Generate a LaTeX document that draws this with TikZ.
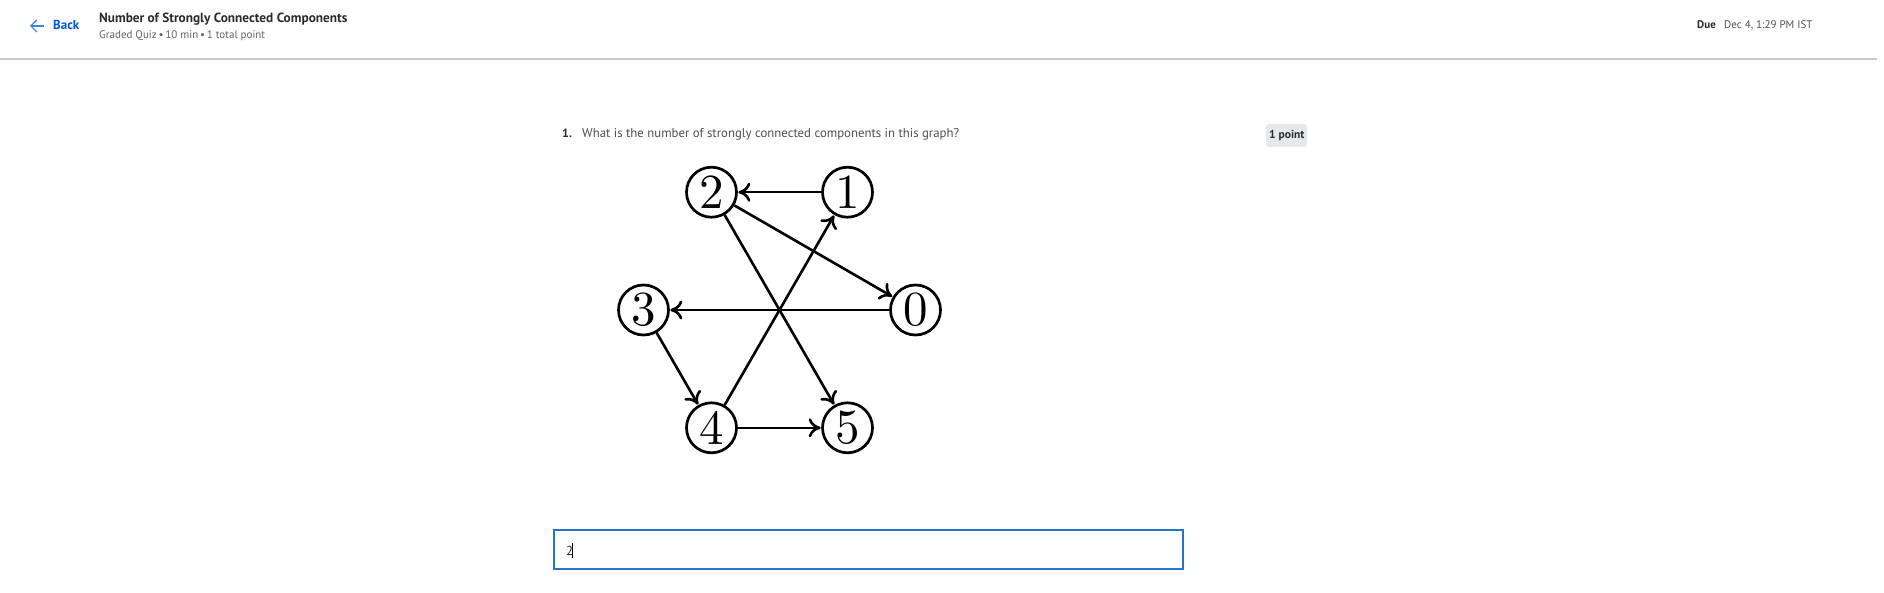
\documentclass[tikz,border=0pt]{standalone}
\usepackage{fontspec}
\newfontfamily\uifont{PT Sans}
\usetikzlibrary{arrows.meta}
\definecolor{cblue}{HTML}{0056D2}
\definecolor{ctitle}{HTML}{2B2B2B}
\definecolor{csub}{HTML}{636363}
\definecolor{cline}{HTML}{C8C8C8}
\definecolor{cbox}{HTML}{2A73CC}
\definecolor{cpoint}{HTML}{E6E8EA}
\newcommand{\dig}[1]{\scalebox{4.9}{\fontsize{10}{12}\selectfont #1}}
\begin{document}
\begin{tikzpicture}[x=1pt,y=-1pt,
  ui/.style={inner sep=0pt,anchor=base west},
  vertex/.style={circle,draw,line width=2.7pt,minimum size=50pt,inner sep=0pt},
  edge/.style={line width=2.6pt,-{Computer Modern Rightarrow[length=12pt,width=19pt]},shorten >=0.5pt}]
\fill[white] (0,0) rectangle (1884,593);
\useasboundingbox (0,0) rectangle (1884,593);
% header
\coordinate (ba1) at (44,26);
\coordinate (ba2) at (30,26);
\draw[cblue!75,line width=1.2pt,-{Straight Barb[length=6pt,width=12pt]}] (ba1) -- (ba2);
\node[ui,text=cblue,font=\uifont\bfseries\fontsize{13}{15}\selectfont] (back) at (53,30) {Back};
\node[ui,text=ctitle,font=\uifont\bfseries\fontsize{13.3}{16}\selectfont] (title) at (99,23) {Number of Strongly Connected Components};
\node[ui,text=csub,font=\uifont\fontsize{11}{14}\selectfont] (sub) at (99,39) {Graded Quiz\,•\,10 min\,•\,1 total point};
\node[ui,text=ctitle,font=\uifont\bfseries\fontsize{11}{13}\selectfont] (due) at (1697,29) {Due};
\node[ui,text=csub!80!black,font=\uifont\fontsize{11}{13}\selectfont] (date) at (1724,29) {Dec 4, 1:29 PM IST};
\coordinate (l1) at (0,59);
\coordinate (l2) at (1877,59);
\draw[cline,line width=1.5pt] (l1) -- (l2);
% question
\node[ui,text=ctitle,font=\uifont\bfseries\fontsize{12}{14}\selectfont] (qn) at (562,138) {1.};
\node[ui,text=csub!80!black,font=\uifont\fontsize{12.8}{14}\selectfont] (q) at (582,138) {What is the number of strongly connected components in this graph?};
\fill[cpoint,rounded corners=3pt] (1266,124) rectangle (1307,147);
\node[ui,text=ctitle,font=\uifont\bfseries\fontsize{11.5}{13}\selectfont] (pt) at (1269,139) {1 point};
% graph
\node[vertex] (n0) at (915.5,310) {\dig{0}};
\node[vertex] (n1) at (847.5,192.2) {\dig{1}};
\node[vertex] (n2) at (711.5,192.2) {\dig{2}};
\node[vertex] (n3) at (643.5,310) {\dig{3}};
\node[vertex] (n4) at (711.5,427.8) {\dig{4}};
\node[vertex] (n5) at (847.5,427.8) {\dig{5}};
\draw[edge] (n1) -- (n2);
\draw[edge] (n2) -- (n0);
\draw[edge] (n2) -- (n5);
\draw[edge] (n0) -- (n3);
\draw[edge] (n3) -- (n4);
\draw[edge] (n4) -- (n5);
\draw[edge] (n4) -- (n1);
% answer box
\draw[cbox,line width=1.5pt] (554,530) rectangle (1183,569);
\node[ui,text=ctitle,font=\uifont\fontsize{13}{15}\selectfont] (ans) at (566,555) {2};
\coordinate (c1) at (572.5,543);
\coordinate (c2) at (572.5,558);
\draw[black,line width=1.3pt] (c1) -- (c2);
\end{tikzpicture}
\end{document}
